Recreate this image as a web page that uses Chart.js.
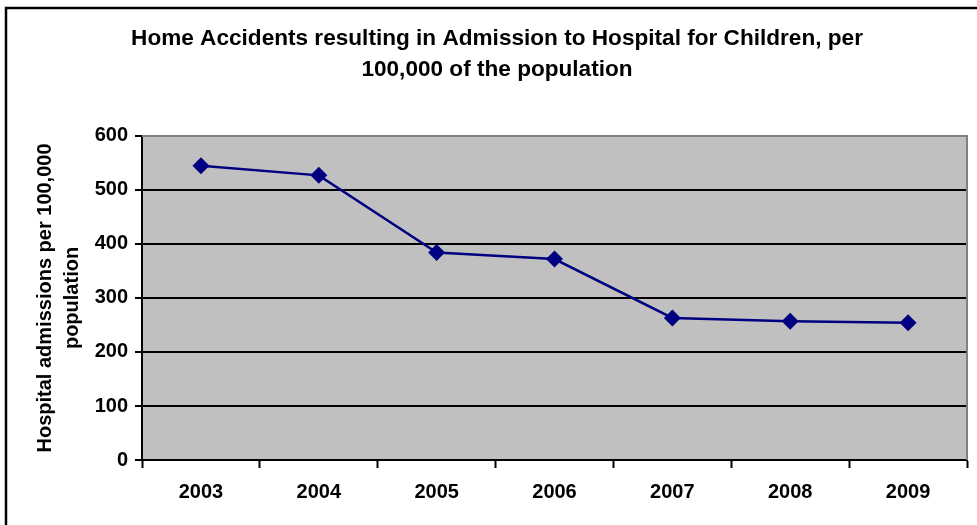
<!DOCTYPE html>
<html>
<head>
<meta charset="utf-8">
<script src="https://cdn.jsdelivr.net/npm/chart.js@4/dist/chart.umd.min.js"></script>
<style>
  html, body { margin: 0; padding: 0; background: #fff; }
  #wrap { width: 977px; height: 525px; position: relative; }
</style>
</head>
<body>
<div id="wrap"><canvas id="c" width="977" height="525"></canvas></div>
<script>
const categories = ['2003', '2004', '2005', '2006', '2007', '2008', '2009'];
const admissions = [545, 527, 384, 372, 263, 257, 254];
const titleLines = ['Home Accidents resulting in Admission to Hospital for Children, per', '100,000 of the population'];
const yTitleLines = ['Hospital admissions per 100,000', 'population'];
const yMin = 0, yMax = 600, yStep = 100;

const FONT = "'Liberation Sans', Arial, Helvetica, sans-serif";

const framePlugin = {
  id: 'frameAndPlot',
  beforeDraw(chart) {
    const ctx = chart.ctx;
    const a = chart.chartArea;
    ctx.save();
    ctx.fillStyle = '#ffffff';
    ctx.fillRect(0, 0, chart.width, chart.height);
    ctx.strokeStyle = '#000000';
    ctx.lineWidth = 2.5;
    ctx.strokeRect(6, 8, chart.width + 20, chart.height + 20);
    ctx.fillStyle = '#C0C0C0';
    ctx.fillRect(a.left, a.top, a.right - a.left, a.bottom - a.top);
    ctx.restore();
  },
  beforeDatasetsDraw(chart) {
    const ctx = chart.ctx;
    const a = chart.chartArea;
    ctx.save();
    ctx.strokeStyle = '#808080';
    ctx.lineWidth = 2;
    ctx.beginPath();
    ctx.moveTo(a.left, a.top);
    ctx.lineTo(a.right, a.top);
    ctx.lineTo(a.right, a.bottom);
    ctx.stroke();
    ctx.restore();
  }
};

new Chart(document.getElementById('c'), {
  type: 'line',
  data: {
    labels: categories,
    datasets: [{
      data: admissions,
      borderColor: '#000080',
      backgroundColor: '#000080',
      borderWidth: 2.5,
      pointStyle: 'rectRot',
      pointRadius: 8.5,
      pointHoverRadius: 8.5,
      pointBorderWidth: 0,
      tension: 0,
      fill: false
    }]
  },
  options: {
    responsive: false,
    animation: false,
    devicePixelRatio: 1,
    layout: { padding: { left: 27, right: 10, top: 0, bottom: 0 } },
    plugins: {
      legend: { display: false },
      tooltip: { enabled: false },
      title: {
        display: true,
        text: titleLines,
        color: '#000',
        font: { family: FONT, size: 22.6, weight: 'bold', lineHeight: 1.37 },
        padding: { top: 23, bottom: 51 }
      }
    },
    scales: {
      x: {
        type: 'category',
        offset: true,
        border: { display: true, color: '#000', width: 2 },
        grid: {
          offset: true,
          drawOnChartArea: false,
          drawTicks: true,
          tickLength: 8,
          tickWidth: 2,
          color: '#000',
          tickColor: '#000'
        },
        ticks: {
          color: '#000',
          font: { family: FONT, size: 20, weight: 'bold' },
          padding: 12,
          maxRotation: 0,
          autoSkip: false
        },
        afterFit(scale) { scale.height = 65; }
      },
      y: {
        min: yMin,
        max: yMax,
        border: { display: true, color: '#000', width: 2 },
        grid: {
          drawOnChartArea: true,
          drawTicks: true,
          tickLength: 7,
          lineWidth: 2,
          tickWidth: 2,
          color: (c) => (c.tick && c.tick.value === yMax) ? 'rgba(0,0,0,0)' : '#000',
          tickColor: '#000'
        },
        ticks: {
          stepSize: yStep,
          color: '#000',
          font: { family: FONT, size: 20, weight: 'bold' },
          padding: 7
        },
        title: {
          display: true,
          text: yTitleLines,
          color: '#000',
          font: { family: FONT, size: 20, weight: 'bold', lineHeight: 1.35 },
          padding: { top: 5, bottom: 0 }
        },
        afterFit(scale) { scale.width = 115; }
      }
    }
  },
  plugins: [framePlugin]
});
</script>
</body>
</html>
